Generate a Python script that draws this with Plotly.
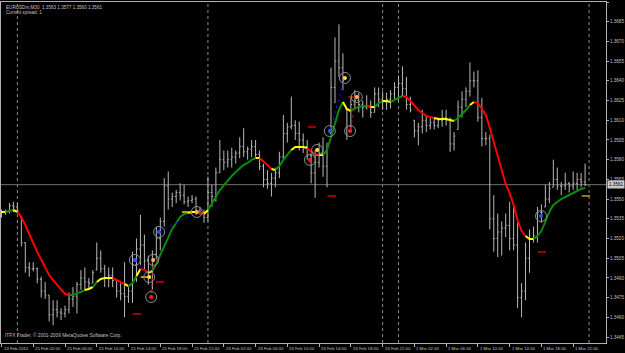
import plotly.graph_objects as go

# ---------------- data (EURUSD M30) ----------------
highs = [
    1.3542, 1.3542, 1.3547, 1.3548, 1.3547, 1.3536, 1.3517, 1.3502, 1.3502, 1.3498,
    1.3491, 1.3487, 1.3477, 1.3473, 1.3473, 1.3467, 1.3469, 1.3479, 1.3483, 1.3487,
    1.3496, 1.3498, 1.3490, 1.3496, 1.3517, 1.3511, 1.3500, 1.3498, 1.3498, 1.3488,
    1.3486, 1.3502, 1.3483, 1.3510, 1.3520, 1.3538, 1.3523, 1.3507, 1.3511, 1.3529,
    1.3536, 1.3566, 1.3571, 1.3555, 1.3557, 1.3562, 1.3561, 1.3552, 1.3553, 1.3552,
    1.3544, 1.3542, 1.3567, 1.3561, 1.3574, 1.3595, 1.3587, 1.3587, 1.3589, 1.3587,
    1.3597, 1.3604, 1.3590, 1.3595, 1.3595, 1.3587, 1.3577, 1.3572, 1.3570, 1.3574,
    1.3586, 1.3614, 1.3608, 1.3628, 1.3610, 1.3609, 1.3600, 1.3595, 1.3585, 1.3587,
    1.3593, 1.3597, 1.3593, 1.3650, 1.3673, 1.3683, 1.3661, 1.3618, 1.3628, 1.3633,
    1.3631, 1.3625, 1.3629, 1.3625, 1.3635, 1.3635, 1.3632, 1.3631, 1.3633, 1.3639,
    1.3644, 1.3651, 1.3643, 1.3628, 1.3610, 1.3608, 1.3618, 1.3614, 1.3612, 1.3612,
    1.3612, 1.3618, 1.3618, 1.3612, 1.3601, 1.3625, 1.3632, 1.3635, 1.3654, 1.3647,
    1.3648, 1.3627, 1.3601, 1.3599, 1.3553, 1.3539, 1.3533, 1.3539, 1.3548, 1.3544,
    1.3532, 1.3486, 1.3517, 1.3527, 1.3529, 1.3544, 1.3546, 1.3561, 1.3563, 1.3580,
    1.3574, 1.3563, 1.3570, 1.3563, 1.3571, 1.3570, 1.3570, 1.3577,
]
lows = [
    1.3536, 1.3538, 1.3539, 1.3540, 1.3540, 1.3514, 1.3494, 1.3491, 1.3495, 1.3486,
    1.3475, 1.3474, 1.3457, 1.3454, 1.3460, 1.3458, 1.3460, 1.3463, 1.3468, 1.3463,
    1.3481, 1.3481, 1.3481, 1.3486, 1.3496, 1.3494, 1.3483, 1.3483, 1.3483, 1.3475,
    1.3473, 1.3460, 1.3471, 1.3471, 1.3487, 1.3500, 1.3496, 1.3485, 1.3481, 1.3504,
    1.3511, 1.3529, 1.3542, 1.3544, 1.3547, 1.3549, 1.3546, 1.3544, 1.3547, 1.3538,
    1.3538, 1.3532, 1.3533, 1.3544, 1.3548, 1.3570, 1.3572, 1.3574, 1.3574, 1.3577,
    1.3581, 1.3582, 1.3580, 1.3582, 1.3582, 1.3572, 1.3559, 1.3558, 1.3552, 1.3559,
    1.3566, 1.3580, 1.3593, 1.3603, 1.3595, 1.3587, 1.3585, 1.3580, 1.3562, 1.3551,
    1.3574, 1.3567, 1.3559, 1.3600, 1.3623, 1.3643, 1.3633, 1.3595, 1.3603, 1.3618,
    1.3616, 1.3612, 1.3618, 1.3612, 1.3616, 1.3620, 1.3618, 1.3618, 1.3619, 1.3625,
    1.3625, 1.3628, 1.3618, 1.3616, 1.3597, 1.3591, 1.3600, 1.3601, 1.3603, 1.3603,
    1.3604, 1.3605, 1.3606, 1.3586, 1.3587, 1.3603, 1.3612, 1.3620, 1.3628, 1.3635,
    1.3609, 1.3590, 1.3591, 1.3527, 1.3510, 1.3506, 1.3507, 1.3521, 1.3511, 1.3511,
    1.3467, 1.3460, 1.3473, 1.3494, 1.3517, 1.3517, 1.3532, 1.3544, 1.3547, 1.3559,
    1.3557, 1.3553, 1.3557, 1.3555, 1.3557, 1.3557, 1.3559, 1.3560,
]
closes = [
    1.3540, 1.3541, 1.3545, 1.3544, 1.3541, 1.3517, 1.3498, 1.3497, 1.3497, 1.3489,
    1.3480, 1.3477, 1.3462, 1.3466, 1.3464, 1.3463, 1.3466, 1.3474, 1.3476, 1.3485,
    1.3490, 1.3487, 1.3486, 1.3494, 1.3505, 1.3497, 1.3490, 1.3492, 1.3488, 1.3480,
    1.3478, 1.3476, 1.3480, 1.3500, 1.3512, 1.3515, 1.3503, 1.3495, 1.3508, 1.3520,
    1.3533, 1.3560, 1.3550, 1.3552, 1.3555, 1.3553, 1.3548, 1.3549, 1.3550, 1.3541,
    1.3540, 1.3536, 1.3555, 1.3552, 1.3570, 1.3580, 1.3578, 1.3580, 1.3582, 1.3585,
    1.3590, 1.3586, 1.3588, 1.3590, 1.3584, 1.3575, 1.3565, 1.3562, 1.3566, 1.3570,
    1.3582, 1.3600, 1.3605, 1.3606, 1.3600, 1.3595, 1.3590, 1.3583, 1.3570, 1.3578,
    1.3585, 1.3575, 1.3590, 1.3635, 1.3655, 1.3650, 1.3640, 1.3605, 1.3622, 1.3625,
    1.3622, 1.3620, 1.3621, 1.3616, 1.3630, 1.3626, 1.3624, 1.3626, 1.3630, 1.3635,
    1.3638, 1.3634, 1.3622, 1.3618, 1.3602, 1.3605, 1.3610, 1.3606, 1.3608, 1.3606,
    1.3610, 1.3612, 1.3610, 1.3592, 1.3598, 1.3620, 1.3626, 1.3632, 1.3640, 1.3640,
    1.3612, 1.3596, 1.3596, 1.3535, 1.3520, 1.3525, 1.3528, 1.3530, 1.3520, 1.3515,
    1.3475, 1.3480, 1.3505, 1.3520, 1.3522, 1.3540, 1.3540, 1.3550, 1.3558, 1.3565,
    1.3560, 1.3560, 1.3562, 1.3560, 1.3562, 1.3565, 1.3563, 1.3561,
]
# moving average indicator values
ma = [
    1.35402, 1.35402, 1.35410, 1.35417, 1.35402, 1.35364, 1.35303, 1.35227, 1.35166, 1.35098,
    1.35037, 1.34983, 1.34922, 1.34884, 1.34846, 1.34808, 1.34778, 1.34770, 1.34770, 1.34785,
    1.34793, 1.34808, 1.34816, 1.34831, 1.34869, 1.34892, 1.34900, 1.34900, 1.34900, 1.34884,
    1.34869, 1.34854, 1.34838, 1.34861, 1.34915, 1.34968, 1.34961, 1.34938, 1.34953, 1.35006,
    1.35075, 1.35143, 1.35212, 1.35273, 1.35318, 1.35364, 1.35387, 1.35395, 1.35402, 1.35402,
    1.35395, 1.35387, 1.35417, 1.35463, 1.35516, 1.35569, 1.35607, 1.35645, 1.35676, 1.35706,
    1.35737, 1.35760, 1.35775, 1.35798, 1.35813, 1.35813, 1.35790, 1.35760, 1.35729, 1.35722,
    1.35752, 1.35798, 1.35836, 1.35874, 1.35897, 1.35897, 1.35897, 1.35889, 1.35859, 1.35843,
    1.35836, 1.35836, 1.35874, 1.35973, 1.36079, 1.36178, 1.36239, 1.36186, 1.36170, 1.36193,
    1.36201, 1.36209, 1.36209, 1.36201, 1.36201, 1.36231, 1.36247, 1.36247, 1.36239, 1.36254,
    1.36269, 1.36285, 1.36277, 1.36247, 1.36209, 1.36178, 1.36155, 1.36132, 1.36125, 1.36117,
    1.36110, 1.36110, 1.36110, 1.36102, 1.36094, 1.36117, 1.36148, 1.36178, 1.36216, 1.36239,
    1.36231, 1.36186, 1.36140, 1.36041, 1.35935, 1.35820, 1.35706, 1.35615, 1.35546, 1.35455,
    1.35341, 1.35257, 1.35219, 1.35196, 1.35196, 1.35219, 1.35257, 1.35326, 1.35402, 1.35455,
    1.35478, 1.35501, 1.35516, 1.35531, 1.35546, 1.35562, 1.35577, 1.35585,
]
# MA slope state per bar: g = rising, r = falling, y = flat
ma_state = ("r" "y" "gg" "y" "rrrrrrrrrrrrr" "gggg" "yy" "g" "yyyy" "rrr" "y" "gg" "y" "rr" "y"
            "ggggggggg" "yy" "rr" "y" "gggggggggggg" "y" "rrr" "y" "gggg" "yyyy" "rrr" "y"
            "ggggg" "yy" "gggg" "r" "y" "gg" "yy" "ggg" "rrrrrrrr" "yyyyy" "gggg" "y"
            "rrrrrrrrrrrrr" "yy" "ggggggggggggg")

# signal circles (bar position, price, colour)
sig_bar = [33.6, 39.7, 38.2, 37.2, 37.7, 49.2, 77.7, 79.5, 82.7, 86.5, 89.5, 87.8, 135.9]
sig_price = [1.35037, 1.35250, 1.35037, 1.34907, 1.34755, 1.35402, 1.35798, 1.35874,
             1.36018, 1.36422, 1.36277, 1.36018, 1.35371]
sig_kind = ["blue", "blue", "orange", "yellow", "red", "orange", "red", "yellow",
            "blue", "yellow", "orange", "red", "blue"]
# dotted links between signals (index pairs, colour)
links = [(0, 3, "blue"), (1, 5, "blue"), (2, 4, "red"), (8, 9, "blue"), (10, 11, "red")]

# small horizontal dash marks
dash_bar = [36.1, 39.9, 34.1, 46.5, 78.2, 83.2, 88.3, 136.1, 147.2]
dash_price = [1.34907, 1.34869, 1.34626, 1.35402, 1.36049, 1.35524, 1.36277, 1.35098, 1.35524]
dash_kind = ["yellow", "red", "red", "yellow", "red", "red", "red", "red", "olive"]

# time axis labels (bar index, label)
time_bars = [0, 8, 16, 24, 32, 40, 48, 56, 64, 72, 80, 88, 96, 104, 112, 120, 128, 136, 144]
time_labels = ["24 Feb 2010", "25 Feb 02:00", "25 Feb 06:00", "25 Feb 10:00", "25 Feb 14:00",
               "25 Feb 18:00", "25 Feb 22:00", "26 Feb 02:00", "26 Feb 06:00", "26 Feb 10:00",
               "26 Feb 14:00", "26 Feb 18:00", "26 Feb 22:00", "1 Mar 02:00", "1 Mar 06:00",
               "1 Mar 10:00", "1 Mar 14:00", "1 Mar 18:00", "1 Mar 22:00"]
separator_bars = [4, 52, 96, 100, 148]

price_ticks = [1.3700, 1.3685, 1.3670, 1.3655, 1.3640, 1.3625, 1.3610, 1.3595, 1.3580,
               1.3565, 1.3550, 1.3535, 1.3520, 1.3505, 1.3490, 1.3475, 1.3460, 1.3445]
price_tick_labels = ["1.3700", "1.3685", "1.3670", "1.3655", "1.3640", "1.3625", "1.3610",
                     "1.3595", "1.3580", "1.3565", "1.3550", "1.3535", "1.3520", "1.3505",
                     "1.3490", "1.3475", "1.3460", "1.3445"]

header = "EURUSDm,M30  1.3563 1.3577 1.3560 1.3561"
spread_text = "Current spread: 1"
copyright_text = "ITFX Trader, © 2001-2009 MetaQuotes Software Corp."

# ---------------- styling ----------------
FONT = "Liberation Sans"
BAR_C = "#b8b8b8"
TXT_C = "#c0c0c0"
MA_COL = {"g": "#0a8c0a", "r": "#ff0000", "y": "#ffff00"}
DOT_COL = {"blue": "#3050ff", "red": "#ff2020", "yellow": "#ffe040", "orange": "#ffb060"}
LINK_COL = {"blue": "#1818c8", "red": "#d01010"}
DASH_COL = {"yellow": "#e8d000", "red": "#d00000", "olive": "#c0a000"}

n = len(highs)
assert len(lows) == n and len(closes) == n and len(ma) == n and len(ma_state) == n
bars = list(range(n))
opens = [closes[0]] + closes[:-1]
opens = [min(max(o, lo), hi) for o, lo, hi in zip(opens, lows, highs)]

fig = go.Figure()

fig.add_trace(go.Ohlc(
    x=bars, open=opens, high=highs, low=lows, close=closes,
    increasing=dict(line=dict(color=BAR_C, width=1)),
    decreasing=dict(line=dict(color=BAR_C, width=1)),
    tickwidth=0.3, hoverinfo="skip", showlegend=False))

# coloured MA line, one trace per run of equal state
start = 0
for i in range(1, n + 1):
    if i == n or ma_state[i] != ma_state[start]:
        s = max(start - 1, 0)
        fig.add_trace(go.Scatter(
            x=bars[s:i], y=ma[s:i], mode="lines",
            line=dict(color=MA_COL[ma_state[start]], width=2),
            hoverinfo="skip", showlegend=False))
        start = i

# dotted links
for a, b, c in links:
    fig.add_trace(go.Scatter(
        x=[sig_bar[a], sig_bar[b]], y=[sig_price[a], sig_price[b]], mode="lines",
        line=dict(color=LINK_COL[c], width=1, dash="dot"),
        hoverinfo="skip", showlegend=False))

# dashes
fig.add_trace(go.Scatter(
    x=dash_bar, y=dash_price, mode="markers",
    marker=dict(symbol="line-ew", size=6, color=[DASH_COL[k] for k in dash_kind],
                line=dict(color=[DASH_COL[k] for k in dash_kind], width=1.5)),
    hoverinfo="skip", showlegend=False))

# signal circles
fig.add_trace(go.Scatter(
    x=sig_bar, y=sig_price, mode="markers",
    marker=dict(symbol="circle-open", size=11, color="#8c8c8c",
                line=dict(color="#8c8c8c", width=1)),
    hoverinfo="skip", showlegend=False))
fig.add_trace(go.Scatter(
    x=sig_bar, y=sig_price, mode="markers",
    marker=dict(symbol="circle", size=4, color=[DOT_COL[k] for k in sig_kind],
                line=dict(width=0)),
    hoverinfo="skip", showlegend=False))

shapes = []
for sb in separator_bars:
    shapes.append(dict(type="line", xref="x", yref="paper", x0=sb, x1=sb, y0=0, y1=1,
                       line=dict(color="#8a8a8a", width=1, dash="dot"), layer="below"))
last_close = closes[-1]
shapes.append(dict(type="line", xref="paper", yref="y", x0=0, x1=1, y0=last_close, y1=last_close,
                   line=dict(color="#707070", width=1), layer="below"))

annotations = []
for b, t in zip(time_bars, time_labels):
    annotations.append(dict(x=b, xref="x", y=0, yref="paper", text=t, showarrow=False,
                            xanchor="left", yanchor="top", xshift=0, yshift=-1,
                            font=dict(family=FONT, size=4.3, color=TXT_C)))
annotations.append(dict(x=1, xref="paper", y=last_close, yref="y", text=f"{last_close:.4f}",
                        showarrow=False, xanchor="left", yanchor="middle", xshift=1,
                        bgcolor="#c8c8c8", borderpad=1,
                        font=dict(family=FONT, size=4.6, color="#000000")))
annotations.append(dict(x=0, xref="paper", y=1, yref="paper", text=header, showarrow=False,
                        xanchor="left", yanchor="top", xshift=3, yshift=-1,
                        font=dict(family=FONT, size=4.6, color=TXT_C)))
annotations.append(dict(x=0, xref="paper", y=1, yref="paper", text=spread_text, showarrow=False,
                        xanchor="left", yanchor="top", xshift=3, yshift=-6,
                        font=dict(family=FONT, size=4.6, color=TXT_C)))
annotations.append(dict(x=0, xref="paper", y=0, yref="paper", text=copyright_text, showarrow=False,
                        xanchor="left", yanchor="bottom", xshift=2, yshift=3,
                        font=dict(family=FONT, size=4.8, color=TXT_C)))

fig.update_layout(
    template="none",
    width=625, height=353,
    margin=dict(l=1, r=19, t=2, b=10, pad=0),
    paper_bgcolor="#000000", plot_bgcolor="#000000",
    showlegend=False,
    shapes=shapes, annotations=annotations,
    xaxis=dict(range=[-0.126, 152.27], showgrid=False, zeroline=False,
               showline=True, mirror=True, linecolor="#b0b0b0", linewidth=1,
               tickvals=time_bars, ticks="outside", ticklen=3, tickcolor="#b0b0b0",
               showticklabels=False, rangeslider=dict(visible=False), automargin=False,
               fixedrange=True),
    yaxis=dict(range=[1.34405, 1.3700], side="right", showgrid=False, zeroline=False,
               showline=True, mirror=True, linecolor="#b0b0b0", linewidth=1,
               tickvals=price_ticks, ticktext=price_tick_labels, ticks="outside",
               ticklen=2, tickcolor="#b0b0b0",
               tickfont=dict(family=FONT, size=4.6, color=TXT_C), automargin=False,
               fixedrange=True),
)

fig.write_html("out.html")
